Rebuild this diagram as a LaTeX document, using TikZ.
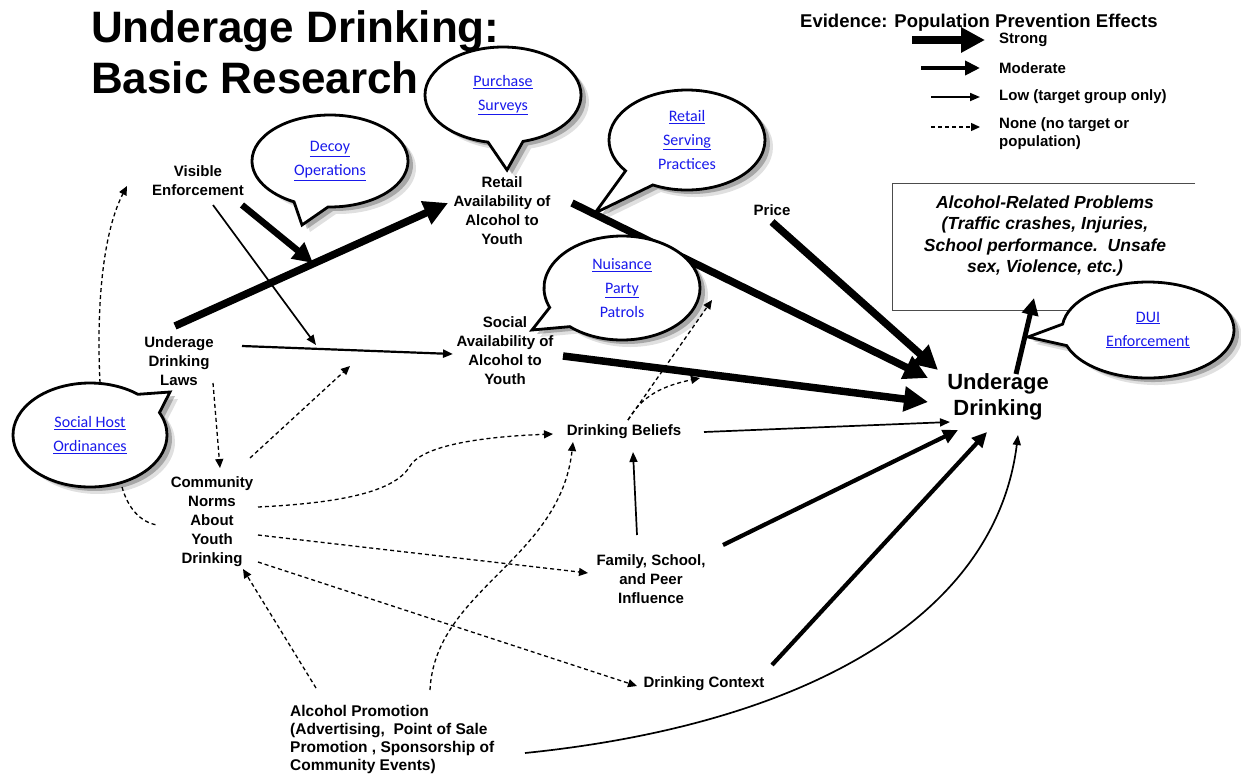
\documentclass[tikz,border=0pt]{standalone}
\usepackage{fontspec}
\setmainfont{Liberation Sans}
\newfontfamily\calib{Carlito}
\usetikzlibrary{arrows.meta,shapes.callouts,shadows}
\definecolor{linkblue}{RGB}{25,25,235}
\begin{document}
\begin{tikzpicture}[x=1pt,y=-1pt,
  title/.style={font=\fontsize{44}{50}\selectfont\bfseries, inner sep=0pt},
  legtitle/.style={font=\fontsize{18.5}{22}\selectfont\bfseries, inner sep=0pt},
  leg/.style={font=\fontsize{15}{18}\selectfont\bfseries, inner sep=0pt},
  lbl/.style={font=\fontsize{15}{19}\selectfont\bfseries, align=center, inner sep=0pt},
  probtxt/.style={font=\fontsize{17.5}{21.5}\selectfont\bfseries\itshape, align=center, inner sep=0pt},
  strongarr/.style={line width=7.5pt, -{Triangle[length=24pt,width=24pt]}},
  modarr/.style={line width=4.2pt, -{Triangle[length=15pt,width=14pt]}},
  lowarr/.style={line width=1.7pt, -{Triangle[length=10pt,width=8pt]}},
  nonearr/.style={line width=1.3pt, dash pattern=on 4pt off 3pt, -{Triangle[length=9pt,width=8pt]}},
  noneline/.style={line width=1.3pt, dash pattern=on 4pt off 3pt},
  bubble/.style={ellipse callout, draw=black, line width=2.8pt, fill=white, inner sep=0pt,
    align=center, font=\calib\fontsize{16}{24}\selectfont, text=linkblue, callout pointer arc=26,
    drop shadow={shadow xshift=8pt, shadow yshift=-7pt, fill=black, opacity=0.12},
    drop shadow={shadow xshift=5pt, shadow yshift=-4pt, fill=black, opacity=0.25}},
]
\fill[white] (0,0) rectangle (1241,782);
\useasboundingbox (0,0) rectangle (1241,782);

% title
\node[title, anchor=base west] (t1) at (91,42) {Underage Drinking:};
\node[title, anchor=base west] (t2) at (91,93) {Basic Research};

% legend
\node[legtitle, anchor=base west] (lt) at (800,27) {Evidence: Population Prevention Effects};
\node[leg, anchor=west] (lstrong) at (999,40) {Strong};
\node[leg, anchor=west] (lmod) at (999,68) {Moderate};
\node[leg, anchor=west] (llow) at (999,97) {Low (target group only)};
\node[leg, anchor=north west, align=left] (lnone) at (999,117) {None (no target or\\population)};
\draw[strongarr] ([xshift=-87]lstrong.west) -- ([xshift=-14]lstrong.west);
\draw[modarr] ([xshift=-78]lmod.west) -- ([xshift=-19]lmod.west);
\draw[lowarr] ([xshift=-68]llow.west) -- ([xshift=-19]llow.west);
\draw[nonearr] ([shift={(-68,10)}]lnone.north west) -- ([shift={(-19,10)}]lnone.north west);

% problems box
\node[minimum width=302, minimum height=126, inner sep=0pt] (prob) at (1044,247) {};
\draw[black!70, line width=1.2pt] (prob.north east) -- (prob.north west) -- (prob.south west) -- (prob.south east);
\node[probtxt] (probt) at (1045,236) {Alcohol-Related Problems\\(Traffic crashes, Injuries,\\School performance.~~Unsafe\\sex, Violence, etc.)};

% main nodes
\node[lbl] (vis) at (198,181) {Visible\\Enforcement};
\node[lbl] (retail) at (502,211) {Retail\\Availability of\\Alcohol to\\Youth};
\node[lbl] (price) at (772,210) {Price};
\node[lbl] (laws) at (179,361) {Underage\\Drinking\\Laws};
\node[lbl] (social) at (505,351) {Social\\Availability of\\Alcohol to\\Youth};
\node[lbl] (beliefs) at (624,432) {Drinking Beliefs};
\node[lbl] (norms) at (212,522) {Community\\Norms\\About\\Youth\\Drinking};
\node[lbl] (family) at (651,579) {Family, School,\\and Peer\\Influence};
\node[lbl] (context) at (704,684) {Drinking Context};
\node[lbl, align=left, anchor=north west, font=\fontsize{15.5}{18}\selectfont\bfseries] (promo) at (290,705) {Alcohol Promotion\\(Advertising,~~Point of Sale\\Promotion , Sponsorship of\\Community Events)};
\node[lbl, font=\fontsize{22}{26}\selectfont\bfseries] (ud) at (998,397) {Underage\\Drinking};

% junction points on other arrows
\coordinate (j1) at (313,263);
\coordinate (j2) at (316,345);
\coordinate (j3) at (350,366);
\coordinate (j4) at (127,186);
\coordinate (j5) at (712,300);
\coordinate (j6) at (700,378);

% connectors
\draw[strongarr] ([shift={(-4,-35)}]laws.center) -- ([shift={(-54,-8)}]retail.center);
\draw[strongarr, line width=6.5pt, -{Triangle[length=20pt,width=20pt]}] ([shift={(44,24)}]vis.center) -- (j1);
\draw[lowarr] ([shift={(15,24)}]vis.center) -- (j2);
\draw[lowarr, line width=2.2pt] ([shift={(63,-15)}]laws.center) -- ([shift={(-52,3)}]social.center);
\draw[nonearr] ([shift={(34,22)}]laws.center) -- ([shift={(8,-54)}]norms.center);
\draw[nonearr] ([shift={(38,-64)}]norms.center) -- (j3);
\draw[nonearr] ([shift={(46,-15)}]norms.center) .. controls (340,503) and (395,492) .. (410,466) .. controls (425,442) and (500,436) .. ([shift={(-71,2)}]beliefs.center);
\draw[nonearr] ([shift={(46,13)}]norms.center) -- ([shift={(-63,-6)}]family.center);
\draw[nonearr] ([shift={(46,40)}]norms.center) -- ([shift={(-67,2)}]context.center);
\draw[nonearr] ([shift={(26,-17)}]promo.north west) -- ([shift={(31,47)}]norms.center);
\draw[nonearr] ([shift={(140,-15)}]promo.north west) .. controls (435,590) and (560,560) .. ([shift={(-51,10)}]beliefs.center);
\draw[nonearr] ([shift={(4,-12)}]beliefs.center) -- (j5);
\draw[nonearr] ([shift={(4,-12)}]beliefs.center) .. controls (642,396) and (662,386) .. (j6);
\draw[strongarr] ([shift={(70,-8)}]retail.center) -- ([shift={(-70,-19)}]ud.center);
\draw[strongarr] ([shift={(0,12)}]price.center) -- ([shift={(-60,-27)}]ud.center);
\draw[strongarr] ([shift={(58,5)}]social.center) -- ([shift={(-70,5)}]ud.center);
\draw[lowarr] ([shift={(80,0)}]beliefs.center) -- ([shift={(-48,25)}]ud.center);
\draw[lowarr] ([shift={(-14,-44)}]family.center) -- ([shift={(9,20)}]beliefs.center);
\draw[modarr] ([shift={(72,-34)}]family.center) -- ([shift={(-40,33)}]ud.center);
\draw[modarr] ([shift={(68,-19)}]context.center) -- ([shift={(-11,35)}]ud.center);
\draw[lowarr] ([shift={(235,48)}]promo.north west) .. controls (800,725) and (995,620) .. ([shift={(20,38)}]ud.center);
\draw[modarr, line width=5pt, -{Triangle[length=17pt,width=16pt]}] ([shift={(18,-23)}]ud.center) -- ([shift={(-10,51)}]prob.center);

% speech bubbles
\node[bubble, minimum width=156, minimum height=96, callout absolute pointer={(507,170)}] (purchase) at (503,95) {\underline{Purchase}\\\underline{Surveys}};
\node[bubble, minimum width=156, minimum height=92, callout absolute pointer={(302,225)}] (decoy) at (330,161) {\underline{Decoy}\\\underline{Operations}};
\node[bubble, minimum width=156, minimum height=100, callout absolute pointer={(595,213)}] (serving) at (687,140) {\underline{Retail}\\\underline{Serving}\\Practices};
\node[bubble, minimum width=156, minimum height=104, callout absolute pointer={(532,330)}] (nuisance) at (622,288) {\underline{Nuisance}\\\underline{Party}\\Patrols};
\node[bubble, minimum width=172, minimum height=96, callout absolute pointer={(1028,337)}] (dui) at (1148,330) {\underline{DUI}\\\underline{Enforcement}};
\node[bubble, minimum width=154, minimum height=104, callout absolute pointer={(170,392)}] (sho) at (90,435) {\underline{Social Host}\\\underline{Ordinances}};

\draw[nonearr] ([shift={(10,-52)}]sho.center) .. controls (96,300) and (104,230) .. (j4);
\draw[noneline] ([shift={(32,52)}]sho.center) .. controls (128,508) and (140,522) .. ([shift={(-55,3)}]norms.center);
\end{tikzpicture}
\end{document}
